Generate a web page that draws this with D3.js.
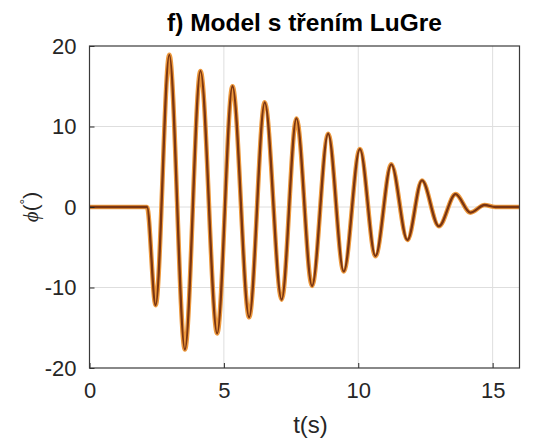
<!DOCTYPE html>
<html>
<head>
<meta charset="utf-8">
<script src="https://cdn.jsdelivr.net/npm/d3@7"></script>
<style>
  html, body { margin: 0; padding: 0; background: #fff; }
  svg { display: block; }
</style>
</head>
<body>
<svg id="chart" width="539" height="443"></svg>
<script>
// Angle response phi(t) of the pendulum with LuGre friction: turning points of the oscillation
const timeS = [0, 2.14, 2.46, 2.97, 3.55, 4.13, 4.75, 5.32, 5.94, 6.52, 7.15, 7.70, 8.28, 8.88,
               9.46, 10.06, 10.64, 11.23, 11.83, 12.37, 13.00, 13.62, 14.17, 14.70, 15.10, 16.00];
const phiDeg = [0, 0, -12.2, 18.9, -17.7, 16.9, -15.7, 15.0, -13.7, 13.0, -11.5, 11.0, -9.8, 9.1,
                -8.0, 7.2, -6.1, 5.3, -4.1, 3.3, -2.4, 1.6, -0.7, 0.25, 0, 0];
const xTicks = [0, 5, 10, 15];
const yTicks = [-20, -10, 0, 10, 20];
const titleText = "f) Model s třením LuGre";
const xLabel = "t(s)";

const svg = d3.select("#chart");
const mLeft = 89.5, mRight = 519.5, mTop = 46, mBottom = 368;
const x = d3.scaleLinear().domain([0, 16]).range([mLeft, mRight]);
const y = d3.scaleLinear().domain([-20, 20]).range([mBottom, mTop]);
const font = "'Liberation Sans', Arial, Helvetica, sans-serif";
const ink = "#262626";

// grid
const grid = svg.append("g");
grid.selectAll(".gx").data(xTicks.filter(d => d > 0)).join("line")
  .attr("x1", d => x(d)).attr("x2", d => x(d)).attr("y1", mTop).attr("y2", mBottom)
  .attr("stroke", "#dedede").attr("stroke-width", 1);
grid.selectAll(".gy").data(yTicks.filter(d => d > -20 && d < 20)).join("line")
  .attr("x1", mLeft).attr("x2", mRight).attr("y1", d => y(d)).attr("y2", d => y(d))
  .attr("stroke", "#dedede").attr("stroke-width", 1);

// data line: orange halo with dark core
const line = d3.line().x((d, i) => x(timeS[i])).y(d => y(d)).curve(d3.curveMonotoneX);
const plot = svg.append("g");
plot.append("path").datum(phiDeg).attr("d", line)
  .attr("fill", "none").attr("stroke", "#ee9a3e").attr("stroke-width", 4.6)
  .attr("stroke-linejoin", "round");
plot.append("path").datum(phiDeg).attr("d", line)
  .attr("fill", "none").attr("stroke", "#7a3512").attr("stroke-width", 2.3)
  .attr("stroke-linejoin", "round");

// axes with inward ticks, plus box
const fmt = d => String(d);
const xAxis = svg.append("g").attr("transform", `translate(0,${mBottom})`)
  .call(d3.axisBottom(x).tickValues(xTicks).tickSize(-5).tickPadding(14).tickFormat(fmt));
const yAxis = svg.append("g").attr("transform", `translate(${mLeft},0)`)
  .call(d3.axisLeft(y).tickValues(yTicks).tickSize(-5).tickPadding(13).tickFormat(fmt));
[xAxis, yAxis].forEach(a => {
  a.select(".domain").remove();
  a.selectAll(".tick line").attr("stroke", ink);
  a.selectAll("text").attr("font-family", font).attr("font-size", 22).attr("fill", ink);
});
svg.append("rect").attr("x", mLeft).attr("y", mTop).attr("width", mRight - mLeft).attr("height", mBottom - mTop)
  .attr("fill", "none").attr("stroke", "#3a3a3a").attr("stroke-width", 1.2);

// title and labels
svg.append("text").attr("x", (mLeft + mRight) / 2).attr("y", 31).attr("text-anchor", "middle")
  .attr("font-family", font).attr("font-size", 24.5).attr("font-weight", "bold").attr("fill", "#000")
  .text(titleText);
svg.append("text").attr("x", (mLeft + mRight) / 2 + 6).attr("y", 433).attr("text-anchor", "middle")
  .attr("font-family", font).attr("font-size", 24).attr("fill", ink).text(xLabel);
const yl = svg.append("text").attr("transform", `translate(38,${(mTop + mBottom) / 2}) rotate(-90)`)
  .attr("text-anchor", "middle").attr("font-family", font).attr("font-size", 21).attr("fill", ink);
yl.append("tspan").attr("font-family", "'Liberation Serif', 'Times New Roman', serif").attr("font-style", "italic").text("ϕ");
yl.append("tspan").text("(");
yl.append("tspan").attr("font-size", 14).attr("dy", -8).text("°");
yl.append("tspan").attr("dy", 8).text(")");
</script>
</body>
</html>
